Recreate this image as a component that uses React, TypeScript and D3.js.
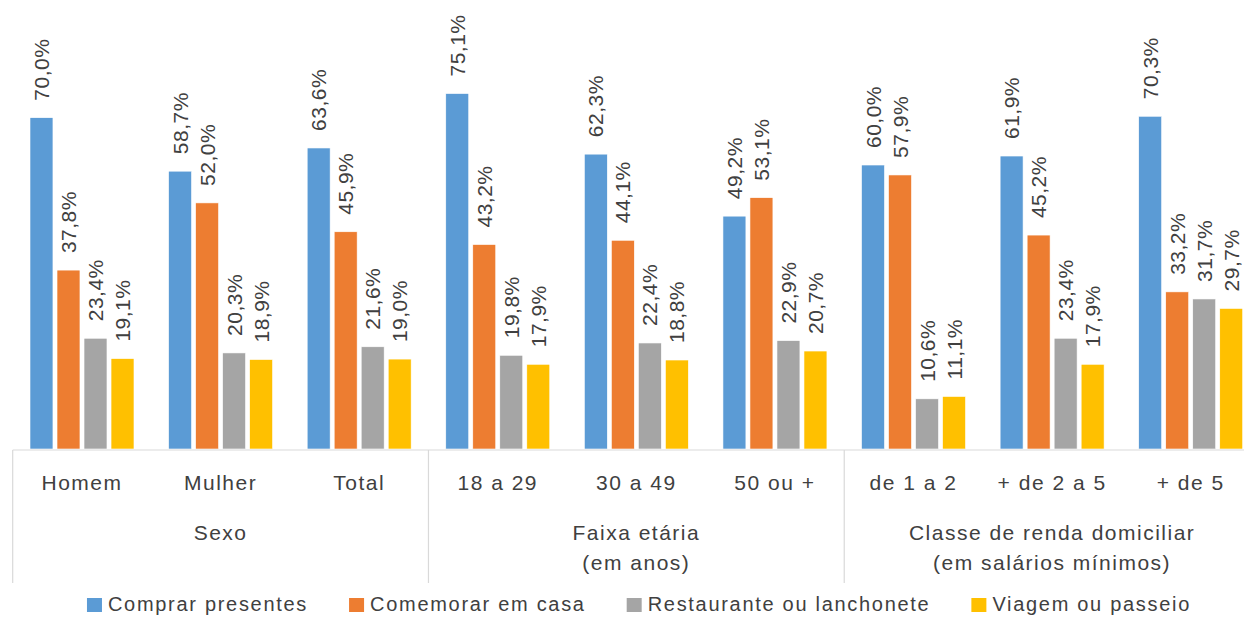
import { useLayoutEffect, useRef, useState } from 'react';
import * as d3 from 'd3';

const W = 1244;
const H = 618;

// categorias do eixo (nível 1) e grupos (nível 2)
const categorias = ['Homem', 'Mulher', 'Total', '18 a 29', '30 a 49', '50 ou +', 'de 1 a 2', '+ de 2 a 5', '+ de 5'];
const grupos = [
  { linhas: ['Sexo'], inicio: 0, fim: 3 },
  { linhas: ['Faixa etária', '(em anos)'], inicio: 3, fim: 6 },
  { linhas: ['Classe de renda domiciliar', '(em salários mínimos)'], inicio: 6, fim: 9 },
];

const series = ['Comprar presentes', 'Comemorar em casa', 'Restaurante ou lanchonete', 'Viagem ou passeio'];
const cores = ['#5B9BD5', '#ED7D31', '#A5A5A5', '#FFC000'];

const comprarPresentes = [70.0, 58.7, 63.6, 75.1, 62.3, 49.2, 60.0, 61.9, 70.3];
const comemorarEmCasa = [37.8, 52.0, 45.9, 43.2, 44.1, 53.1, 57.9, 45.2, 33.2];
const restaurante = [23.4, 20.3, 21.6, 19.8, 22.4, 22.9, 10.6, 23.4, 31.7];
const viagem = [19.1, 18.9, 19.0, 17.9, 18.8, 20.7, 11.1, 17.9, 29.7];

const valores = [comprarPresentes, comemorarEmCasa, restaurante, viagem];

const MARGIN = { left: 12.7, right: -16, base: 449 };
const FONTE = '"Liberation Sans", Arial, sans-serif';
const COR_TEXTO = '#404040';

const fmt = (v: number) => v.toFixed(1).replace('.', ',') + '%';

export default function App() {
  const legendRef = useRef<SVGGElement>(null);
  const [legendX, setLegendX] = useState<number[]>([87, 351, 636, 978]);

  const xScale = d3
    .scaleBand<number>()
    .domain(d3.range(categorias.length))
    .range([MARGIN.left, W - MARGIN.right])
    .padding(0);

  const inner = d3
    .scaleBand<number>()
    .domain(d3.range(series.length))
    .range([17.3, xScale.bandwidth() - 17.3])
    .paddingInner(0.15);

  const yScale = d3.scaleLinear().domain([0, 100]).range([MARGIN.base, MARGIN.base - 473.3]);

  // posiciona a legenda centrada medindo os textos
  useLayoutEffect(() => {
    if (!legendRef.current) return;
    const textos = d3.select(legendRef.current).selectAll<SVGTextElement, unknown>('text').nodes();
    const larguras = textos.map(t => t.getComputedTextLength());
    const quad = 15, gapTxt = 6, gapItem = 41;
    const total = d3.sum(larguras) + larguras.length * (quad + gapTxt) + (larguras.length - 1) * gapItem;
    let x = 639 - total / 2;
    const xs: number[] = [];
    larguras.forEach(l => {
      xs.push(x);
      x += quad + gapTxt + l + gapItem;
    });
    setLegendX(xs);
  }, []);

  const linhaBase = MARGIN.base + 1;
  const fimSeparador = 583;

  return (
    <svg
      width={W}
      height={H}
      style={{ position: 'absolute', left: 0, top: 0, background: '#fff', fontFamily: FONTE }}
    >
      {/* barras */}
      {valores.map((serie, s) =>
        serie.map((v, i) => (
          <rect
            key={`b${s}-${i}`}
            x={xScale(i)! + inner(s)!}
            y={yScale(v)}
            width={inner.bandwidth()}
            height={yScale(0) - yScale(v)}
            fill={cores[s]}
            stroke="#fff"
            strokeWidth={0.6}
          />
        ))
      )}

      {/* rótulos de dados */}
      {valores.map((serie, s) =>
        serie.map((v, i) => {
          const cx = xScale(i)! + inner(s)! + inner.bandwidth() / 2;
          const cy = yScale(v) - 17;
          return (
            <text
              key={`l${s}-${i}`}
              transform={`translate(${cx},${cy}) rotate(-90)`}
              dy="0.36em"
              textAnchor="start"
              fontSize={21}
              letterSpacing={0.5}
              fill={COR_TEXTO}
            >
              {fmt(v)}
            </text>
          );
        })
      )}

      {/* eixo */}
      <line x1={MARGIN.left} x2={W} y1={linhaBase} y2={linhaBase} stroke="#d9d9d9" strokeWidth={1.2} />
      {grupos.map((g, k) => (
        <line
          key={`sep${k}`}
          x1={xScale(g.inicio)!}
          x2={xScale(g.inicio)!}
          y1={linhaBase}
          y2={fimSeparador}
          stroke="#d9d9d9"
          strokeWidth={1.2}
        />
      ))}

      {categorias.map((c, i) => (
        <text
          key={`c${i}`}
          x={xScale(i)! + xScale.bandwidth() / 2}
          y={490}
          textAnchor="middle"
          fontSize={21}
          letterSpacing={1.5}
          fill={COR_TEXTO}
        >
          {c}
        </text>
      ))}

      {grupos.map((g, k) => {
        const x0 = xScale(g.inicio)!;
        const x1 = xScale(g.fim - 1)! + xScale.bandwidth();
        return g.linhas.map((l, j) => (
          <text
            key={`g${k}-${j}`}
            x={(x0 + x1) / 2}
            y={540 + j * 30}
            textAnchor="middle"
            fontSize={21}
            letterSpacing={1.5}
            fill={COR_TEXTO}
          >
            {l}
          </text>
        ));
      })}

      {/* legenda */}
      <g ref={legendRef}>
        {series.map((s, k) => (
          <g key={`leg${k}`}>
            <rect x={legendX[k]} y={598} width={15} height={14} fill={cores[k]} />
            <text x={legendX[k] + 21} y={611} fontSize={20} letterSpacing={1.7} fill={COR_TEXTO}>
              {s}
            </text>
          </g>
        ))}
      </g>
    </svg>
  );
}
